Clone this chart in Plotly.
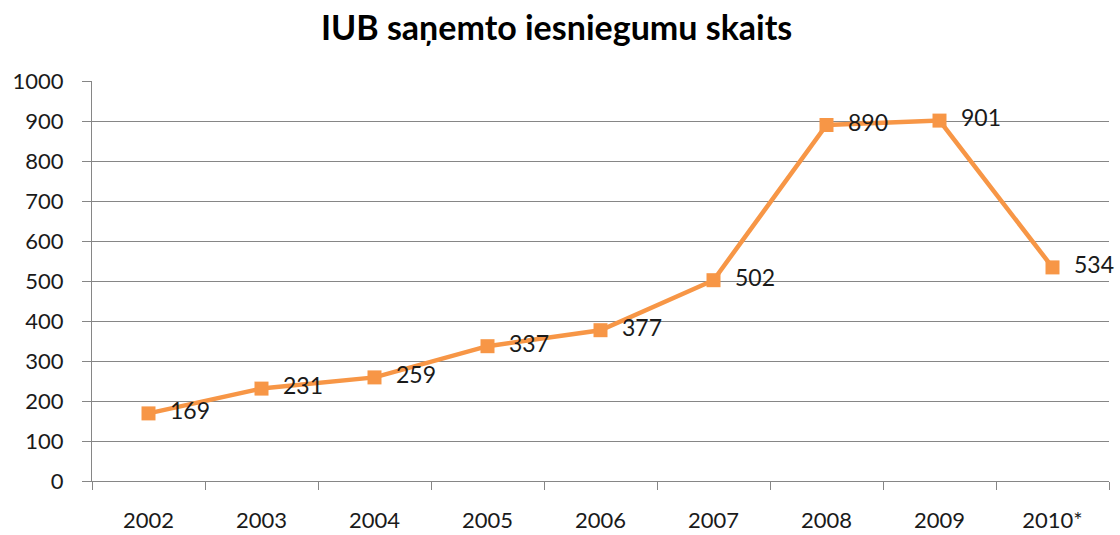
import plotly.graph_objects as go

years = ["2002", "2003", "2004", "2005", "2006", "2007", "2008", "2009", "2010*"]
values = [169, 231, 259, 337, 377, 502, 890, 901, 534]
y_ticks = list(range(0, 1001, 100))

font_family = "Lato, 'Open Sans', sans-serif"
orange = "#F79646"
grid = "#868686"

fig = go.Figure()
fig.add_trace(go.Scatter(
    x=years, y=values,
    mode="lines+markers+text",
    line=dict(color=orange, width=4.5),
    marker=dict(symbol="square", size=14, color=orange),
    text=[f"  {v}" for v in values],
    textposition="middle right",
    textfont=dict(family=font_family, size=23, color="#1a1a1a"),
    cliponaxis=False,
    showlegend=False,
))

fig.update_layout(
    width=1120, height=535,
    margin=dict(l=92, r=11, t=81, b=54, autoexpand=False),
    paper_bgcolor="white", plot_bgcolor="white",
    title=dict(text="<b>IUB saņemto iesniegumu skaits</b>", x=0.497, xanchor="center",
               y=0.948, yanchor="middle", yref="container",
               font=dict(family=font_family, size=34, color="#000000")),
    xaxis=dict(
        type="category", showgrid=False, showline=True, linecolor=grid, linewidth=1,
        ticks="outside", tickson="boundaries", ticklen=8, tickcolor=grid,
        ticklabelstandoff=20, automargin=False,
        tickfont=dict(family=font_family, size=22, color="#1a1a1a"),
        range=[-0.5, 8.5], fixedrange=True,
    ),
    yaxis=dict(
        range=[0, 1000], tickvals=y_ticks, showgrid=True, gridcolor=grid, gridwidth=1,
        showline=True, linecolor=grid, linewidth=1, automargin=False,
        ticks="outside", ticklen=9, tickcolor=grid, ticklabelstandoff=14,
        tickfont=dict(family=font_family, size=22, color="#1a1a1a"),
        zeroline=False,
    ),
)

fig.write_html("out.html", config={"displayModeBar": False},
               post_script="document.body.style.margin='0';document.body.style.overflow='hidden';")
